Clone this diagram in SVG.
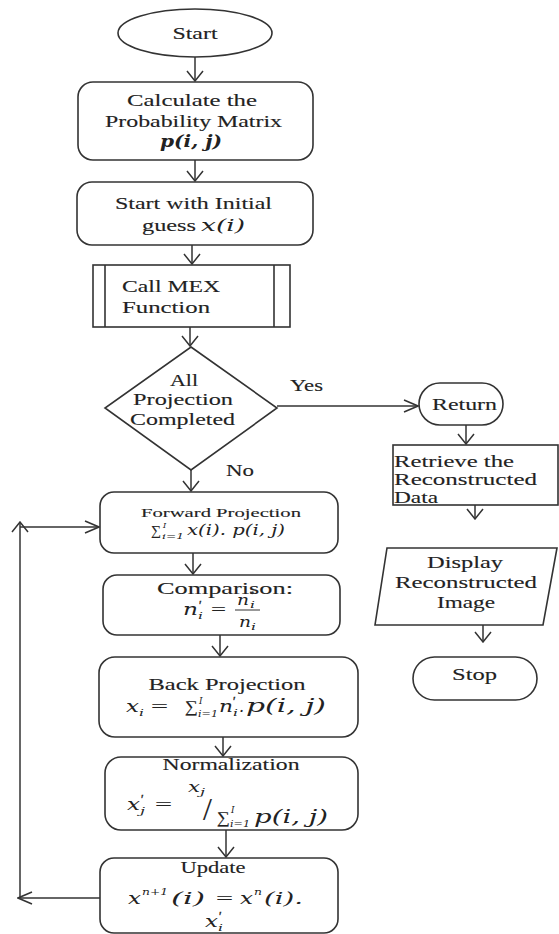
<svg xmlns="http://www.w3.org/2000/svg" width="559" height="934" viewBox="0 0 559 934" font-size="16">
<defs>
<marker id="av" markerUnits="userSpaceOnUse" markerWidth="12" markerHeight="18" viewBox="0 0 12 18" refX="11" refY="9" orient="auto">
<path d="M1,1 L11,9 L1,17" fill="none" stroke="#333" stroke-width="1.5"/>
</marker>
<marker id="ah" markerUnits="userSpaceOnUse" markerWidth="16" markerHeight="14" viewBox="0 0 16 14" refX="15" refY="7" orient="auto">
<path d="M1,1 L15,7 L1,13" fill="none" stroke="#333" stroke-width="1.5"/>
</marker>
<style>
.n{fill:#fff;stroke:#333;stroke-width:1.6}
.c{fill:none;stroke:#333;stroke-width:1.5}
.v{marker-end:url(#av)}
.h{marker-end:url(#ah)}
text{font-family:"Liberation Serif","Times New Roman",serif;fill:#222;stroke:#222;stroke-width:0.12}
.m{font-family:"DejaVu Serif",serif;font-style:italic;stroke-width:0}
.b{font-weight:bold}
.f{font-size:13px}
.s{font-size:10px}
.s9{font-size:9px}
.s8{font-size:8px}
.p{font-size:12px;stroke-width:0.4}
.k{font-size:14px}
</style>
</defs>
<rect width="559" height="934" fill="#fff"/>
<g id="connectors">
<line class="c v" x1="195" y1="57" x2="195" y2="81"/>
<line class="c v" x1="195" y1="160" x2="195" y2="181"/>
<line class="c v" x1="192" y1="245" x2="192" y2="264"/>
<line class="c v" x1="190" y1="327" x2="190" y2="346"/>
<line class="c v" x1="191" y1="470" x2="191" y2="491"/>
<line class="c h" x1="277" y1="406" x2="418" y2="406"/>
<line class="c v" x1="466" y1="425" x2="466" y2="444"/>
<line class="c v" x1="475" y1="505" x2="475" y2="519"/>
<line class="c v" x1="483" y1="625" x2="483" y2="642"/>
<line class="c v" x1="193" y1="553" x2="193" y2="574"/>
<line class="c v" x1="220" y1="635" x2="220" y2="656"/>
<line class="c v" x1="223" y1="737" x2="223" y2="756"/>
<line class="c v" x1="226" y1="830" x2="226" y2="857"/>
<line class="c h" x1="100" y1="898" x2="18" y2="898"/>
<line class="c v" x1="20" y1="898" x2="20" y2="522"/>
<line class="c h" x1="20" y1="527" x2="99" y2="527"/>
<text x="290" y="391" textLength="33" lengthAdjust="spacingAndGlyphs">Yes</text>
<text x="226" y="476" textLength="28" lengthAdjust="spacingAndGlyphs">No</text>
</g>
<g id="start">
<ellipse class="n" cx="195" cy="33" rx="77" ry="24"/>
<text x="195" y="39" text-anchor="middle" textLength="45" lengthAdjust="spacingAndGlyphs">Start</text>
</g>
<g id="calc">
<rect class="n" x="78" y="82" width="235" height="78" rx="15"/>
<text x="192" y="106" text-anchor="middle" textLength="130" lengthAdjust="spacingAndGlyphs">Calculate the</text>
<text x="193.5" y="127" text-anchor="middle" textLength="177" lengthAdjust="spacingAndGlyphs">Probability Matrix</text>
<text class="m b" x="191" y="147" text-anchor="middle" textLength="62" lengthAdjust="spacingAndGlyphs">p(i, j)</text>
</g>
<g id="initial">
<rect class="n" x="77" y="182" width="236" height="63" rx="15"/>
<text x="193.5" y="209" text-anchor="middle" textLength="157" lengthAdjust="spacingAndGlyphs">Start with Initial</text>
<text x="142" y="231" textLength="54" lengthAdjust="spacingAndGlyphs">guess</text>
<text class="m" x="201" y="231" textLength="44" lengthAdjust="spacingAndGlyphs">x(i)</text>
</g>
<g id="mex">
<rect class="n" x="93" y="265" width="197" height="62"/>
<line class="n" x1="105" y1="265" x2="105" y2="327"/>
<line class="n" x1="274" y1="265" x2="274" y2="327"/>
<text x="122" y="292" textLength="98" lengthAdjust="spacingAndGlyphs">Call MEX</text>
<text x="122" y="313" textLength="88" lengthAdjust="spacingAndGlyphs">Function</text>
</g>
<g id="decision">
<polygon class="n" points="191,347 277,408 191,470 105,408"/>
<text x="184" y="386" text-anchor="middle" textLength="28" lengthAdjust="spacingAndGlyphs">All</text>
<text x="183" y="405" text-anchor="middle" textLength="100" lengthAdjust="spacingAndGlyphs">Projection</text>
<text x="182.5" y="425" text-anchor="middle" textLength="105" lengthAdjust="spacingAndGlyphs">Completed</text>
</g>
<g id="return">
<rect class="n" x="419" y="383" width="84" height="42" rx="21"/>
<text x="464.5" y="410" text-anchor="middle" textLength="65" lengthAdjust="spacingAndGlyphs">Return</text>
</g>
<g id="retrieve">
<rect class="n" x="393" y="445" width="165" height="60"/>
<text x="394" y="467" textLength="120" lengthAdjust="spacingAndGlyphs">Retrieve the</text>
<text x="394" y="485" textLength="143" lengthAdjust="spacingAndGlyphs">Reconstructed</text>
<text x="394" y="503" textLength="44" lengthAdjust="spacingAndGlyphs">Data</text>
</g>
<g id="display">
<polygon class="n" points="387,548 557,548 543,625 375,625"/>
<text x="465" y="568" text-anchor="middle" textLength="76" lengthAdjust="spacingAndGlyphs">Display</text>
<text x="466" y="588" text-anchor="middle" textLength="142" lengthAdjust="spacingAndGlyphs">Reconstructed</text>
<text x="466" y="608" text-anchor="middle" textLength="58" lengthAdjust="spacingAndGlyphs">Image</text>
</g>
<g id="stop">
<rect class="n" x="413" y="657" width="124" height="43" rx="21.5"/>
<text x="474.5" y="680" text-anchor="middle" textLength="45" lengthAdjust="spacingAndGlyphs">Stop</text>
</g>
<g id="forward">
<rect class="n" x="100" y="492" width="238" height="61" rx="14"/>
<text class="f" x="221" y="517" text-anchor="middle" textLength="160" lengthAdjust="spacingAndGlyphs">Forward Projection</text>
<text class="k" x="151" y="535">∑</text>
<text class="s8 m" x="162" y="539" textLength="22" lengthAdjust="spacingAndGlyphs">i=1</text>
<text class="s8 m" x="163" y="528">I</text>
<text class="m k" x="187" y="535" textLength="98" lengthAdjust="spacingAndGlyphs">x(i). p(i, j)</text>
</g>
<g id="comparison">
<rect class="n" x="103" y="575" width="237" height="60" rx="14"/>
<text x="225" y="594" text-anchor="middle" textLength="136" lengthAdjust="spacingAndGlyphs">Comparison:</text>
<text class="m" x="183" y="615" textLength="15" lengthAdjust="spacingAndGlyphs">n</text>
<text class="s m" x="198" y="619" textLength="5" lengthAdjust="spacingAndGlyphs">i</text>
<text class="p" x="199" y="609">′</text>
<text x="211" y="615" textLength="15" lengthAdjust="spacingAndGlyphs">=</text>
<text class="m k" x="237" y="605" textLength="12" lengthAdjust="spacingAndGlyphs">n</text>
<text class="s9 m" x="250" y="608" textLength="5" lengthAdjust="spacingAndGlyphs">i</text>
<text class="s9" x="250" y="597">*</text>
<line x1="235" y1="610" x2="260" y2="610" stroke="#333" stroke-width="1"/>
<text class="m k" x="239" y="627" textLength="12" lengthAdjust="spacingAndGlyphs">n</text>
<text class="s9 m" x="251" y="630" textLength="5" lengthAdjust="spacingAndGlyphs">i</text>
</g>
<g id="back">
<rect class="n" x="99" y="657" width="259" height="80" rx="16"/>
<text x="227" y="690" text-anchor="middle" textLength="157" lengthAdjust="spacingAndGlyphs">Back Projection</text>
<text class="m" x="126" y="712" textLength="13" lengthAdjust="spacingAndGlyphs">x</text>
<text class="s m" x="139" y="716" textLength="5" lengthAdjust="spacingAndGlyphs">i</text>
<text x="151" y="712" textLength="17" lengthAdjust="spacingAndGlyphs">=</text>
<text x="185" y="712" textLength="13" lengthAdjust="spacingAndGlyphs">∑</text>
<text class="s9 m" x="198" y="717" textLength="20" lengthAdjust="spacingAndGlyphs">i=1</text>
<text class="s9 m" x="199" y="704">I</text>
<text class="m" x="219" y="712" textLength="14" lengthAdjust="spacingAndGlyphs">n</text>
<text class="s m" x="233" y="716" textLength="5" lengthAdjust="spacingAndGlyphs">i</text>
<text class="p" x="233" y="705">′</text>
<text class="m" x="239" y="712">.</text>
<text class="m" x="246" y="712" font-size="18" textLength="80" lengthAdjust="spacingAndGlyphs">p(i, j)</text>
</g>
<g id="normalization">
<rect class="n" x="105" y="757" width="253" height="73" rx="16"/>
<text x="231" y="770" text-anchor="middle" textLength="137" lengthAdjust="spacingAndGlyphs">Normalization</text>
<text class="m" x="127" y="810" textLength="13" lengthAdjust="spacingAndGlyphs">x</text>
<text class="s m" x="140" y="814" textLength="5" lengthAdjust="spacingAndGlyphs">j</text>
<text class="p" x="141" y="803">′</text>
<text x="155" y="810" textLength="17" lengthAdjust="spacingAndGlyphs">=</text>
<text class="m" x="188" y="792" font-size="14" textLength="12" lengthAdjust="spacingAndGlyphs">x</text>
<text class="s9 m" x="200" y="795" textLength="5" lengthAdjust="spacingAndGlyphs">j</text>
<text x="203" y="820" font-size="32" stroke-width="0.1">/</text>
<text x="217" y="823" textLength="13" lengthAdjust="spacingAndGlyphs">∑</text>
<text class="s9 m" x="230" y="827" textLength="20" lengthAdjust="spacingAndGlyphs">i=1</text>
<text class="s9 m" x="231" y="813">I</text>
<text class="m" x="254" y="823" font-size="18" textLength="74" lengthAdjust="spacingAndGlyphs">p(i, j)</text>
</g>
<g id="update">
<rect class="n" x="100" y="858" width="238" height="75" rx="14"/>
<text x="213" y="873" text-anchor="middle" textLength="65" lengthAdjust="spacingAndGlyphs">Update</text>
<text class="m" x="128" y="904" textLength="13" lengthAdjust="spacingAndGlyphs">x</text>
<text class="s m" x="142" y="895" textLength="26" lengthAdjust="spacingAndGlyphs">n+1</text>
<text class="m" x="171" y="904" textLength="34" lengthAdjust="spacingAndGlyphs">(i)</text>
<text x="216" y="904" textLength="17" lengthAdjust="spacingAndGlyphs">=</text>
<text class="m" x="240" y="904" textLength="13" lengthAdjust="spacingAndGlyphs">x</text>
<text class="s m" x="254" y="895" textLength="8" lengthAdjust="spacingAndGlyphs">n</text>
<text class="m" x="264" y="904" textLength="39" lengthAdjust="spacingAndGlyphs">(i).</text>
<text class="m" x="205" y="927" textLength="13" lengthAdjust="spacingAndGlyphs">x</text>
<text class="s m" x="218" y="931" textLength="5" lengthAdjust="spacingAndGlyphs">i</text>
<text class="p" x="219" y="920">′</text>
</g>
</svg>
